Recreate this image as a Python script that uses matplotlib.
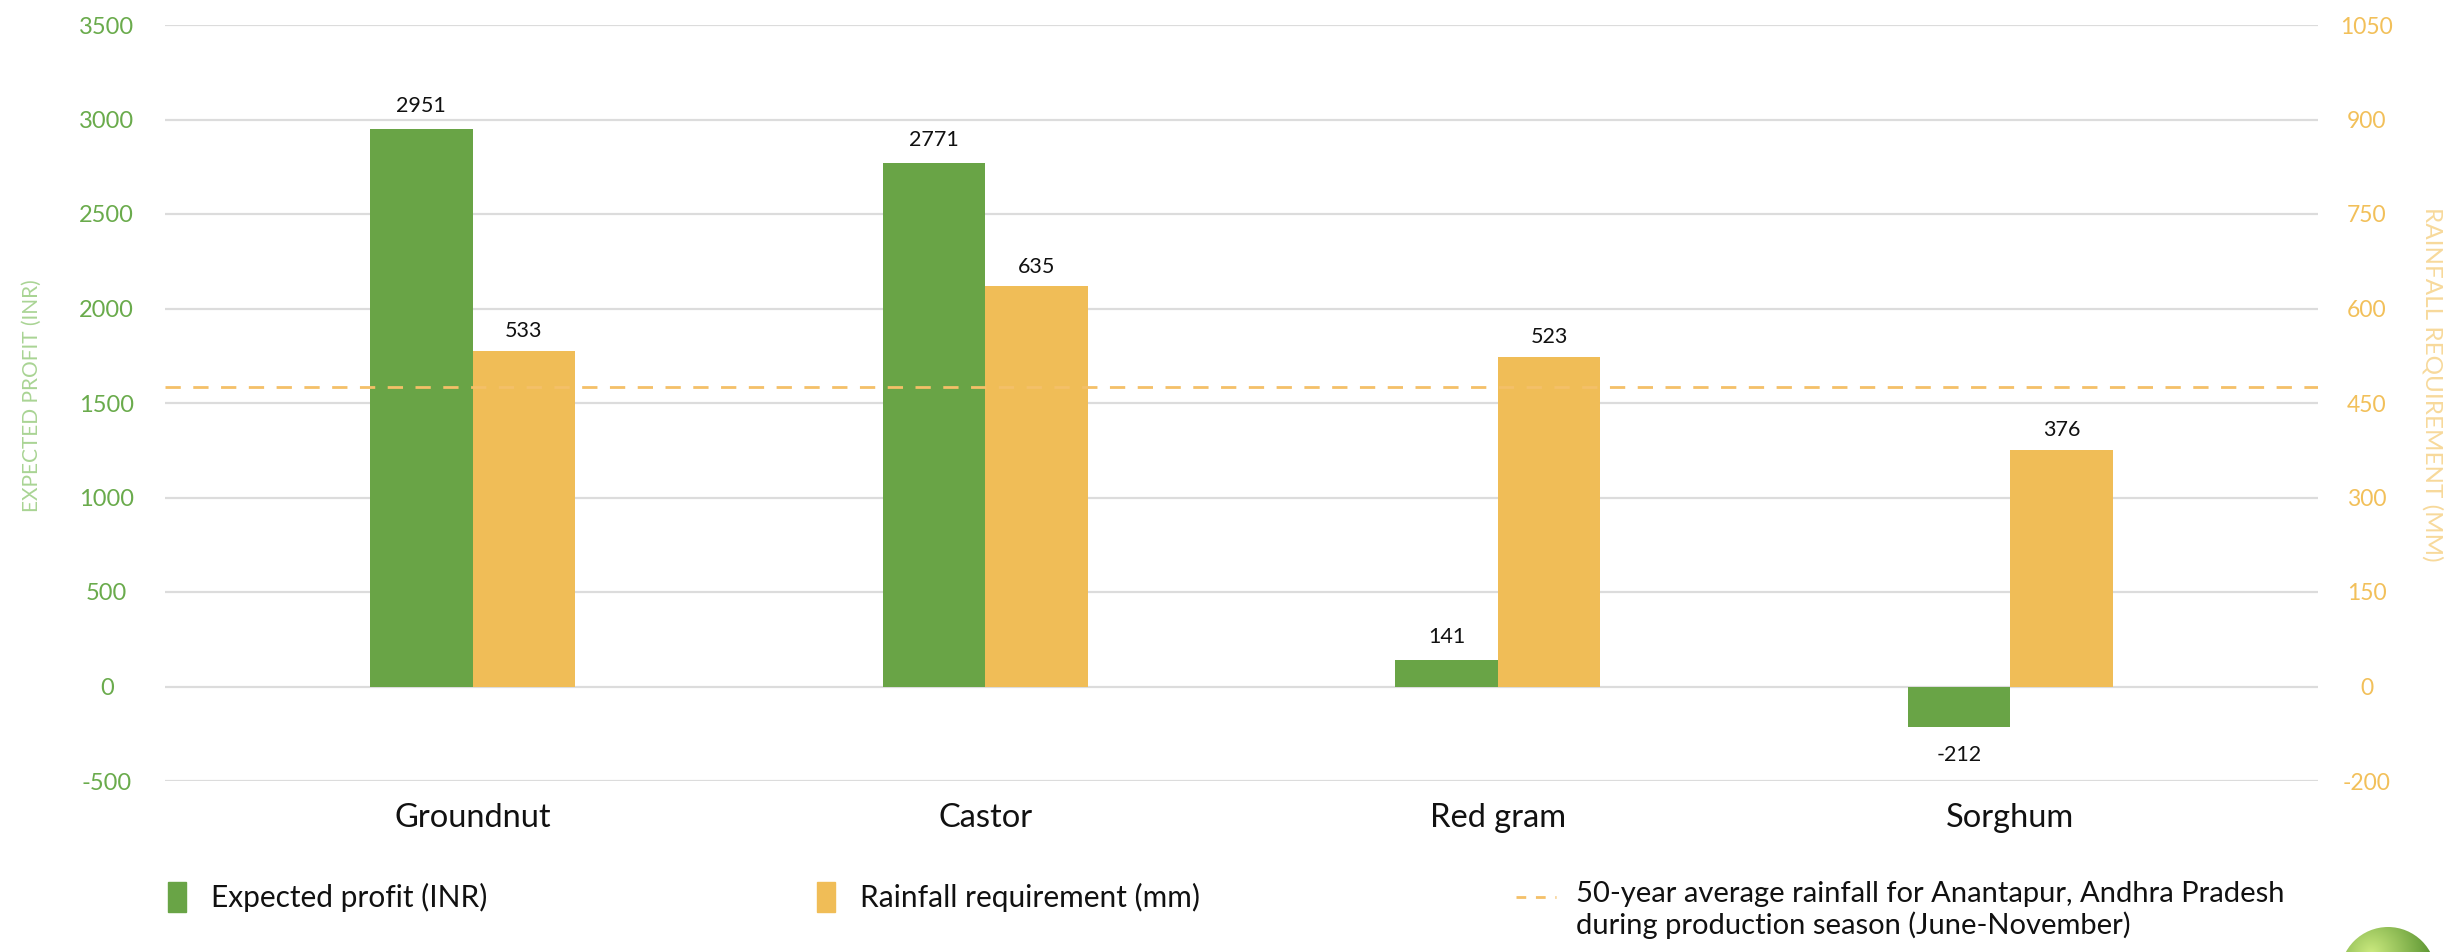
import numpy as np
import matplotlib
matplotlib.use("Agg")
import matplotlib.pyplot as plt
from matplotlib.patches import Circle, Patch
from matplotlib.lines import Line2D

# ---- data ----
crops = ["Groundnut", "Castor", "Red gram", "Sorghum"]
profit_inr = [2951, 2771, 141, -212]
rainfall_mm = [533, 635, 523, 376]
avg_rainfall_mm = 476

profit_ticks = [-500, 0, 500, 1000, 1500, 2000, 2500, 3000, 3500]
rain_tick_labels = ["-200", "0", "150", "300", "450", "600", "750", "900", "1050"]
rain_per_profit = 0.3  # secondary scale relative to the primary one

profit_label = "EXPECTED PROFIT (INR)"
rain_label = "RAINFALL REQUIREMENT (MM)"
legend_profit = "Expected profit (INR)"
legend_rain = "Rainfall requirement (mm)"
legend_avg = "50-year average rainfall for Anantapur, Andhra Pradesh\nduring production season (June-November)"

# ---- style ----
GREEN = "#69a446"
ORANGE = "#f0bd57"
GREEN_TXT = "#6aab4c"
ORANGE_TXT = "#f2c05a"
GREEN_TITLE = "#a9d494"
ORANGE_TITLE = "#f7d99b"
DASH = "#f4c068"
GRID = "#dcdcdc"
FONT = ["Lato", "DejaVu Sans"]
plt.rcParams["font.family"] = FONT

W, H = 2464, 952
fig = plt.figure(figsize=(W / 100, H / 100), dpi=100)
L, R, T, B = 165, 2318, 25, 781
ax = fig.add_axes([L / W, 1 - B / H, (R - L) / W, (B - T) / H])
ax2 = ax.twinx()

x = np.arange(len(crops))
bw = 0.2

ax.bar(x - bw / 2, profit_inr, width=bw, color=GREEN, zorder=3)
ax2.bar(x + bw / 2, rainfall_mm, width=bw, color=ORANGE, zorder=3)
ax2.axhline(avg_rainfall_mm, color=DASH, lw=2.0, dashes=(5.5, 4.5), zorder=5)

ylo, yhi = profit_ticks[0], profit_ticks[-1]
ax.set_ylim(ylo, yhi)
ax2.set_ylim(ylo * rain_per_profit, yhi * rain_per_profit)
ax.set_xlim(-0.6, len(crops) - 0.4)

ax.set_yticks(profit_ticks)
ax.set_yticklabels([str(v) for v in profit_ticks])
ax.yaxis.grid(True, color=GRID, lw=1.6, zorder=0)
ax.set_axisbelow(True)
ax.tick_params(axis="y", length=0, pad=42, labelsize=17, labelcolor=GREEN_TXT)
for lab in ax.get_yticklabels():
    lab.set_ha("center")

ax2.set_yticks([v * rain_per_profit for v in profit_ticks])
ax2.set_yticklabels(rain_tick_labels)
ax2.tick_params(axis="y", length=0, pad=35, labelsize=16.5, labelcolor=ORANGE_TXT)
for lab in ax2.get_yticklabels():
    lab.set_ha("center")

ax.set_xticks(x)
ax.set_xticklabels(crops, fontsize=23.5, color="#111111")
ax.tick_params(axis="x", length=0, pad=16)

for a in (ax, ax2):
    for s in a.spines.values():
        s.set_visible(False)

# value labels
for xi, v in zip(x, profit_inr):
    if v >= 0:
        ax.annotate(str(v), (xi - bw / 2, v), xytext=(0, 9), textcoords="offset points",
                    ha="center", va="bottom", fontsize=15.5, color="#111111")
    else:
        ax.annotate(str(v), (xi - bw / 2, v), xytext=(0, -13), textcoords="offset points",
                    ha="center", va="top", fontsize=15.5, color="#111111")
for xi, v in zip(x, rainfall_mm):
    ax2.annotate(str(v), (xi + bw / 2, v), xytext=(0, 7), textcoords="offset points",
                 ha="center", va="bottom", fontsize=15.5, color="#111111")

# axis titles
fig.text(32 / W, 1 - 396 / H, profit_label, rotation=90, ha="center", va="center",
         fontsize=15, color=GREEN_TITLE)
fig.text(2432 / W, 1 - 384 / H, rain_label, rotation=-90, ha="center", va="center",
         fontsize=17.5, color=ORANGE_TITLE)

# legend entries
ly = 1 - 897 / H
common = dict(frameon=False, fontsize=21.5, handletextpad=0.85, borderaxespad=0,
              borderpad=0, labelcolor="#111111")
fig.legend(handles=[Patch(color=GREEN)], labels=[legend_profit], loc="center left",
           bbox_to_anchor=(168 / W, ly), handlelength=0.6, handleheight=1.2, **common)
fig.legend(handles=[Patch(color=ORANGE)], labels=[legend_rain], loc="center left",
           bbox_to_anchor=(817 / W, ly), handlelength=0.6, handleheight=1.2, **common)

# dashed-line key with its two-line caption
fig.add_artist(Line2D([1516 / W, 1556 / W], [ly, ly], transform=fig.transFigure,
                      color=DASH, lw=2.0, dashes=(3.5, 3.5)))
fig.text(1576 / W, 1 - 881 / H, legend_avg, ha="left", va="top", fontsize=21,
         color="#111111", linespacing=1.2)

# small globe emblem in the lower right corner
gx, gy, gr = 2388, 975, 48
gax = fig.add_axes([(gx - gr) / W, 1 - (gy + gr) / H, 2 * gr / W, 2 * gr / H])
gax.set_xlim(-1, 1)
gax.set_ylim(-1, 1)
gax.axis("off")
yy, xx = np.mgrid[-1:1:200j, -1:1:200j]
shade = np.clip(1 - np.hypot(xx + 0.35, yy - 0.45) / 1.6, 0, 1)
img = np.zeros((200, 200, 3))
dark = np.array([0.25, 0.50, 0.12])
light = np.array([0.80, 0.92, 0.50])
img[:] = dark + (light - dark) * shade[..., None]
im = gax.imshow(img, extent=(-1, 1, -1, 1), origin="lower")
clip = Circle((0, 0), 1, transform=gax.transData)
im.set_clip_path(clip)

fig.savefig("out.png", dpi=100)
